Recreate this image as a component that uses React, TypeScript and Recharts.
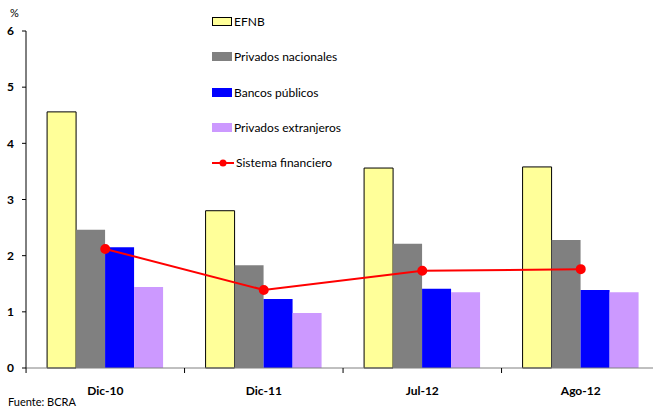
import React from 'react';
import { ComposedChart, Bar, Line, XAxis, YAxis } from 'recharts';

const PERIODS = ['Dic-10', 'Dic-11', 'Jul-12', 'Ago-12'];
const EFNB = [4.56, 2.8, 3.56, 3.58];
const PRIV_NAC = [2.46, 1.83, 2.21, 2.28];
const PUBLICOS = [2.15, 1.23, 1.41, 1.39];
const PRIV_EXT = [1.44, 0.98, 1.35, 1.35];
const SISTEMA = [2.12, 1.39, 1.73, 1.76];
const Y_TICKS = [0, 1, 2, 3, 4, 5, 6];

const data = PERIODS.map((p, i) => ({
  period: p,
  efnb: EFNB[i],
  privNac: PRIV_NAC[i],
  publicos: PUBLICOS[i],
  privExt: PRIV_EXT[i],
  sistema: SISTEMA[i],
}));

const FONT = 'Lato, "Liberation Sans", sans-serif';

const legendItems = [
  { label: 'EFNB', color: '#FFFF99', border: true },
  { label: 'Privados nacionales', color: '#808080' },
  { label: 'Bancos públicos', color: '#0000FF' },
  { label: 'Privados extranjeros', color: '#CC99FF' },
  { label: 'Sistema financiero', color: '#FF0000', line: true },
];

const LegendBox = () => (
  <div style={{ position: 'absolute', left: 212, top: 4, fontFamily: FONT, fontSize: 12, color: '#000' }}>
    {legendItems.map((it) => (
      <div key={it.label} style={{ display: 'flex', alignItems: 'center', height: 35.3 }}>
        {it.line ? (
          <svg width={22} height={10} style={{ marginRight: 2 }}>
            <line x1={0} y1={5} x2={22} y2={5} stroke="#FF0000" strokeWidth={2} />
            <circle cx={11} cy={5} r={3.5} fill="#FF0000" />
          </svg>
        ) : (
          <div
            style={{
              width: it.border ? 18 : 20,
              height: it.border ? 7 : 9,
              background: it.color,
              border: it.border ? '1px solid #000' : 'none',
              marginRight: 2,
            }}
          />
        )}
        <span>{it.label}</span>
      </div>
    ))}
  </div>
);

const XTick = (props: any) => {
  const { x, y, payload } = props;
  return (
    <g>
      <line x1={x - 79.2} y1={y - 8} x2={x - 79.2} y2={y - 3} stroke="#000" />
      <text x={x} y={y + 19} textAnchor="middle" fontFamily={FONT} fontSize={12} fontWeight="bold" fill="#000">
        {payload.value}
      </text>
    </g>
  );
};

export default function App() {
  return (
    <div style={{ position: 'fixed', left: 0, top: 0, width: 653, height: 408, overflow: 'hidden', background: '#fff' }}>
      <div style={{ position: 'absolute', left: 10, top: 6, fontFamily: FONT, fontSize: 11 }}>%</div>
      <ComposedChart
        width={668}
        height={408}
        data={data}
        margin={{ top: 31, right: 8, bottom: 10, left: 0 }}
        barCategoryGap="13.3%"
        barGap={0}
      >
        <XAxis
          dataKey="period"
          height={30}
          tickLine={false}
          axisLine={{ stroke: '#808080' }}
          tick={<XTick />}
          interval={0}
        />
        <YAxis
          domain={[0, 6]}
          ticks={Y_TICKS}
          width={26}
          tickSize={4}
          tickMargin={8}
          axisLine={{ stroke: '#000' }}
          tickLine={{ stroke: '#000' }}
          tick={{ fontFamily: FONT, fontSize: 12, fontWeight: 'bold', fill: '#000' }}
        />
        <Bar dataKey="efnb" fill="#FFFF99" stroke="#000" strokeWidth={1} isAnimationActive={false} />
        <Bar dataKey="privNac" fill="#808080" isAnimationActive={false} />
        <Bar dataKey="publicos" fill="#0000FF" isAnimationActive={false} />
        <Bar dataKey="privExt" fill="#CC99FF" isAnimationActive={false} />
        <Line
          dataKey="sistema"
          stroke="#FF0000"
          strokeWidth={2}
          dot={{ r: 4, fill: '#FF0000', stroke: '#FF0000' }}
          isAnimationActive={false}
        />
      </ComposedChart>
      <LegendBox />
      <div style={{ position: 'absolute', left: 8, top: 395, fontFamily: FONT, fontSize: 11 }}>Fuente: BCRA</div>
    </div>
  );
}
